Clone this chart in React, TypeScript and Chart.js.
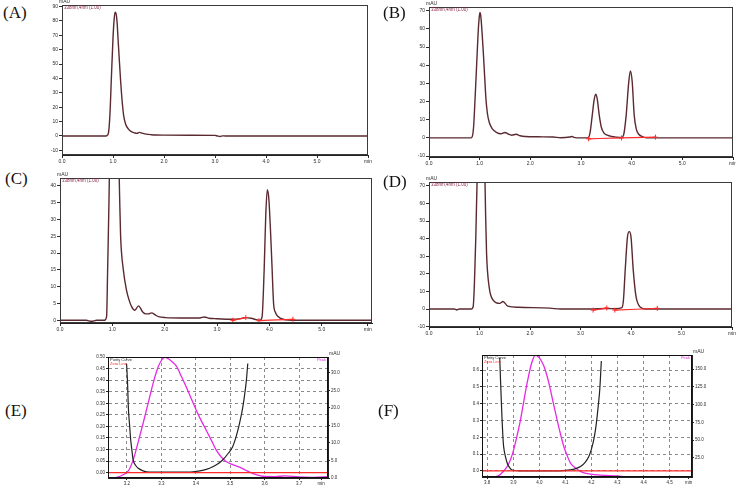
import React, { useEffect, useRef } from "react";
import { Chart, registerables } from "chart.js";

Chart.register(...registerables);

const FONT = '"Liberation Sans", Arial, Helvetica, sans-serif';
const SERIF = '"Liberation Serif", "Times New Roman", Times, serif';
const TRACE = "#5a2a30";
const RED = "#ff2b2b";
const MAGENTA = "#e52ae5";
const INK = "#2b2b2b";
const TITLE_COLOR = "#8a2345";

// ---------- Panel A (chromatogram) ----------
const A_TIME = [0, 0.5, 0.85, 0.88, 0.91, 0.94, 0.97, 1.0, 1.02, 1.04, 1.06, 1.08, 1.1, 1.12, 1.15, 1.18, 1.21, 1.25, 1.3, 1.36, 1.42, 1.47, 1.52, 1.57, 1.65, 1.75, 1.85, 2.0, 2.5, 3.0, 3.05, 3.1, 3.15, 3.2, 4.0, 5.0, 6.0];
const A_MAU = [0, 0, 0, 0.3, 2, 15, 42, 68, 80, 86, 85, 79, 67, 55, 38, 24, 14, 8, 5, 3, 2.2, 1.8, 2.5, 2, 1.3, 0.9, 0.7, 0.6, 0.5, 0.4, 0, -0.3, 0.1, 0, 0, 0, 0];

// ---------- Panel B ----------
const B_TIME = [0, 0.5, 0.82, 0.85, 0.88, 0.91, 0.94, 0.97, 0.99, 1.005, 1.02, 1.04, 1.07, 1.1, 1.125, 1.155, 1.19, 1.25, 1.33, 1.42, 1.5, 1.57, 1.63, 1.72, 1.8, 1.9, 2.15, 2.45, 2.6, 2.78, 2.82, 2.86, 3.0, 3.14, 3.18, 3.22, 3.26, 3.29, 3.32, 3.36, 3.4, 3.45, 3.52, 3.6, 3.7, 3.8, 3.84, 3.89, 3.94, 3.975, 4.01, 4.05, 4.09, 4.14, 4.22, 4.3, 5.0, 6.0];
const B_MAU = [0, 0, 0, 0.5, 6, 22, 40, 58, 66, 69, 67.5, 61, 48, 33, 21, 13, 8.5, 5, 3.1, 2.3, 3, 2, 1.5, 2, 1.2, 0.8, 0.6, 0.5, 0.1, 0.5, 0.8, 0.3, 0, 0, 3, 12, 21, 24, 21.5, 12.5, 6, 2.8, 1.5, 0.8, 0.4, 0.2, 1.5, 12, 30, 36.8, 31, 12.5, 5, 2, 0.6, 0, 0, 0];
const B_BASE_TIME = [3.15, 3.8, 4.47];
const B_BASE_MAU = [-0.5, 0, 0.4];

// ---------- Panel C ----------
const C_TIME = [0, 0.5, 0.6, 0.7, 0.85, 0.89, 0.91, 0.935, 0.96, 1.0, 1.05, 1.1, 1.125, 1.14, 1.158, 1.21, 1.27, 1.32, 1.37, 1.43, 1.5, 1.58, 1.64, 1.69, 1.75, 1.82, 1.88, 2.02, 2.3, 2.67, 2.76, 2.85, 2.95, 3.3, 3.45, 3.55, 3.65, 3.75, 3.82, 3.86, 3.9, 3.93, 3.96, 3.99, 4.02, 4.05, 4.08, 4.12, 4.16, 4.26, 4.5, 5.0, 5.96];
const C_MAU = [0, 0, -0.3, 0, 0, 1.1, 15, 34.8, 60, 82, 88, 70, 47, 36, 25, 15, 9, 6, 4, 3, 4.3, 2.5, 1.9, 1.9, 2.2, 1.6, 1.1, 0.8, 0.7, 0.7, 1, 0.6, 0.5, 0.3, 0.5, 0.8, 0.6, 0.2, 0, 1, 15, 31, 38.8, 36, 27, 16, 5, 2.2, 1.2, 0.3, 0, 0, 0];
const C_BASE_TIME = [3.3, 3.55, 3.67, 3.8, 4.45];
const C_BASE_MAU = [0, 0.8, null, -0.1, 0.3];

// ---------- Panel D ----------
const D_TIME = [0, 0.5, 0.55, 0.6, 0.84, 0.874, 0.9, 0.927, 0.95, 1.0, 1.05, 1.1, 1.12, 1.14, 1.19, 1.27, 1.4, 1.465, 1.56, 1.78, 2.4, 2.6, 3.2, 3.5, 3.7, 3.82, 3.85, 3.885, 3.93, 3.965, 4.0, 4.045, 4.1, 4.19, 4.29, 5.0, 6.0];
const D_MAU = [0, 0, -0.5, 0, 0, 1.3, 15, 41, 70, 95, 100, 85, 55, 31.6, 12.7, 5.1, 3.2, 4.3, 1.7, 1, 0.5, 0, 0, 0.3, 0.2, 0.8, 5, 22, 41, 44, 41, 22, 7, 1, 0, 0, 0];
const D_BASE_TIME = [3.25, 3.52, 3.6, 3.68, 4.52];
const D_BASE_MAU = [-0.6, 0.6, null, -0.6, 0.4];

// ---------- Panel E (peak purity) ----------
const E_PEAK_TIME = [3.145, 3.16, 3.175, 3.19, 3.204, 3.218, 3.232, 3.247, 3.262, 3.276, 3.29, 3.3, 3.31, 3.32, 3.333, 3.344, 3.358, 3.372, 3.386, 3.401, 3.415, 3.43, 3.445, 3.459, 3.474, 3.488, 3.507, 3.527, 3.545, 3.565, 3.594, 3.63, 3.66, 3.7, 3.74, 3.784];
const E_PEAK_MAU = [0, 0, 0.3, 1, 2, 5.1, 10, 15.6, 21.5, 27, 31.5, 33.5, 34.4, 34, 33, 31.8, 29, 26, 22.8, 19.4, 16.5, 13.7, 10.8, 8, 6, 4.7, 3.8, 3.1, 2.2, 1.3, 0.5, 0.4, 0.6, 0.3, 0.2, 0.4];
const E_PURITY_TIME = [3.199, 3.202, 3.204, 3.208, 3.211, 3.215, 3.218, 3.225, 3.233, 3.245, 3.257, 3.3, 3.35, 3.392, 3.42, 3.44, 3.46, 3.478, 3.495, 3.507, 3.518, 3.527, 3.535, 3.541, 3.547, 3.551];
const E_PURITY = [0.47, 0.38, 0.285, 0.2, 0.141, 0.09, 0.055, 0.032, 0.019, 0.009, 0.004, 0.002, 0.002, 0.004, 0.01, 0.019, 0.034, 0.055, 0.085, 0.112, 0.16, 0.213, 0.27, 0.328, 0.4, 0.472];
const E_ZERO_TIME = [3.145, 3.784];
const E_ZERO = [0, 0];

// ---------- Panel F (peak purity) ----------
const F_PEAK_TIME = [3.78, 3.795, 3.81, 3.825, 3.835, 3.844, 3.86, 3.877, 3.89, 3.902, 3.915, 3.928, 3.941, 3.954, 3.97, 3.985, 4.0, 4.017, 4.03, 4.042, 4.055, 4.068, 4.081, 4.094, 4.107, 4.119, 4.138, 4.158, 4.18, 4.209, 4.25, 4.3, 4.34, 4.37, 4.41, 4.44, 4.5, 4.586];
const F_PEAK_MAU = [-1.8, -1.8, -1.8, -2.5, -1, 0, 5, 13, 23, 37, 57, 79, 106, 132, 158, 170, 166, 155, 140, 122, 100, 79, 59, 41, 28, 18, 11, 6, 3, 1.4, 0.3, -0.5, -2.5, -1.8, -1.8, -2.5, -3, -3];
const F_PURITY_TIME = [3.848, 3.851, 3.854, 3.857, 3.86, 3.863, 3.87, 3.877, 3.886, 3.896, 3.92, 4.0, 4.08, 4.119, 4.14, 4.158, 4.175, 4.19, 4.2, 4.209, 4.216, 4.222, 4.227, 4.232, 4.238];
const F_PURITY = [0.675, 0.545, 0.42, 0.305, 0.21, 0.146, 0.085, 0.046, 0.02, 0.006, 0.001, 0, 0.001, 0.006, 0.014, 0.026, 0.05, 0.086, 0.13, 0.186, 0.25, 0.325, 0.4, 0.485, 0.654];
const F_ZERO_TIME = [3.78, 4.586];
const F_ZERO = [0, 0];

// ---------- Ticks ----------
const X_TICKS = [0, 1, 2, 3, 4, 5, 6];
const X_TICKS_C = [0, 1, 2, 3, 4, 5, 5.88];
const X_LABELS = ["0.0", "1.0", "2.0", "3.0", "4.0", "5.0", "min"];
const Y_TICKS_A = [-10, 0, 10, 20, 30, 40, 50, 60, 70, 80, 90];
const Y_TICKS_BD = [-10, 0, 10, 20, 30, 40, 50, 60, 70];
const Y_TICKS_C = [0, 5, 10, 15, 20, 25, 30, 35, 40];
const E_X_TICKS = [3.2, 3.3, 3.4, 3.5, 3.6, 3.7, 3.764];
const E_X_LABELS = ["3.2", "3.3", "3.4", "3.5", "3.6", "3.7", "min"];
const E_PURITY_TICKS = [0, 0.05, 0.1, 0.15, 0.2, 0.25, 0.3, 0.35, 0.4, 0.45, 0.5];
const E_PURITY_LABELS = ["0.00", "0.05", "0.10", "0.15", "0.20", "0.25", "0.30", "0.35", "0.40", "0.45", "0.50"];
const E_MAU_TICKS = [0, 5, 10, 15, 20, 25, 30];
const E_MAU_LABELS = ["0.0", "5.0", "10.0", "15.0", "20.0", "25.0", "30.0"];
const F_X_TICKS = [3.8, 3.9, 4.0, 4.1, 4.2, 4.3, 4.4, 4.5, 4.573];
const F_X_LABELS = ["3.8", "3.9", "4.0", "4.1", "4.2", "4.3", "4.4", "4.5", "min"];
const F_PURITY_TICKS = [0, 0.1, 0.2, 0.3, 0.4, 0.5, 0.6];
const F_PURITY_LABELS = ["0.0", "0.1", "0.2", "0.3", "0.4", "0.5", "0.6"];
const F_MAU_TICKS = [25, 50, 75, 100, 125, 150];
const F_MAU_LABELS = ["25.0", "50.0", "75.0", "100.0", "125.0", "150.0"];

const CHROM_TITLE = "338nm,4nm (1.00)";

const str = (a: number[]) => a.map((v) => String(v));

const chromTexts = [
  { text: "mAU", anchor: "tl", dx: -3, dy: -0.5, color: INK, size: 5, baseline: "bottom", align: "left" },
  { text: CHROM_TITLE, anchor: "tl", dx: 2, dy: 1, color: TITLE_COLOR, size: 4.5, baseline: "top", align: "left" },
];
const purityTexts = [
  { text: "Purity Curve", anchor: "tl", dx: 2, dy: 0.5, color: INK, size: 4, baseline: "top", align: "left" },
  { text: "Zero Line", anchor: "tl", dx: 2, dy: 4.5, color: RED, size: 4, baseline: "top", align: "left" },
  { text: "Peak", anchor: "tr", dx: -2, dy: 0.5, color: MAGENTA, size: 4, baseline: "top", align: "right" },
  { text: "mAU", anchor: "tr", dx: 1, dy: -1, color: INK, size: 5, baseline: "bottom", align: "left" },
];

const trace = (t: number[], v: any[]) => ({ t, v, color: TRACE, width: 1.4, axis: "y" });
const base = (t: number[], v: any[]) => ({ t, v, color: RED, width: 1.2, axis: "y", marks: true });

const PANELS: any[] = [
  {
    id: "A", letter: "(A)", lx: 3, ly: 4,
    L: 62, T: 5, R: 368, B: 155, ml: 24, mt: 5, mr: 10, mb: 12,
    xMin: 0, xMax: 6, xTicks: X_TICKS, xLabels: X_LABELS,
    yMin: -13.2, yMax: 91, yTicks: Y_TICKS_A, yLabels: str(Y_TICKS_A),
    lines: [trace(A_TIME, A_MAU)], texts: chromTexts, grid: false, font: 5,
  },
  {
    id: "B", letter: "(B)", lx: 383, ly: 4,
    L: 429, T: 7, R: 733, B: 157, ml: 24, mt: 7, mr: 10, mb: 12,
    xMin: 0, xMax: 6, xTicks: X_TICKS, xLabels: X_LABELS,
    yMin: -10.5, yMax: 72, yTicks: Y_TICKS_BD, yLabels: str(Y_TICKS_BD),
    lines: [base(B_BASE_TIME, B_BASE_MAU), trace(B_TIME, B_MAU)], texts: chromTexts, grid: false, font: 5,
  },
  {
    id: "C", letter: "(C)", lx: 5, ly: 170,
    L: 60, T: 178, R: 372, B: 323, ml: 24, mt: 8, mr: 10, mb: 12,
    xMin: 0, xMax: 5.96, xTicks: X_TICKS_C, xLabels: X_LABELS,
    yMin: -0.8, yMax: 42.3, yTicks: Y_TICKS_C, yLabels: str(Y_TICKS_C),
    lines: [base(C_BASE_TIME, C_BASE_MAU), trace(C_TIME, C_MAU)], texts: chromTexts, grid: false, font: 5,
  },
  {
    id: "D", letter: "(D)", lx: 383, ly: 173,
    L: 429, T: 182, R: 732, B: 327, ml: 24, mt: 8, mr: 10, mb: 12,
    xMin: 0, xMax: 6, xTicks: X_TICKS, xLabels: X_LABELS,
    yMin: -10.2, yMax: 72.2, yTicks: Y_TICKS_BD, yLabels: str(Y_TICKS_BD),
    lines: [base(D_BASE_TIME, D_BASE_MAU), trace(D_TIME, D_MAU)], texts: chromTexts, grid: false, font: 5,
  },
  {
    id: "E", letter: "(E)", lx: 5, ly: 402,
    L: 108, T: 357, R: 328, B: 478, ml: 20, mt: 12, mr: 22, mb: 10,
    xMin: 3.145, xMax: 3.784, xTicks: E_X_TICKS, xLabels: E_X_LABELS,
    yMin: -0.023, yMax: 0.5, yTicks: E_PURITY_TICKS, yLabels: E_PURITY_LABELS,
    y2: { min: 0, max: 34.5, ticks: E_MAU_TICKS, labels: E_MAU_LABELS },
    lines: [
      { t: E_ZERO_TIME, v: E_ZERO, color: RED, width: 1.2, axis: "y" },
      { t: E_PURITY_TIME, v: E_PURITY, color: "#222222", width: 1.2, axis: "y" },
      { t: E_PEAK_TIME, v: E_PEAK_MAU, color: MAGENTA, width: 1.3, axis: "y2" },
    ],
    texts: purityTexts, grid: true, font: 4.5,
  },
  {
    id: "F", letter: "(F)", lx: 378, ly: 402,
    L: 482, T: 355, R: 692, B: 477, ml: 20, mt: 12, mr: 30, mb: 11,
    xMin: 3.78, xMax: 4.586, xTicks: F_X_TICKS, xLabels: F_X_LABELS,
    yMin: -0.036, yMax: 0.69, yTicks: F_PURITY_TICKS, yLabels: F_PURITY_LABELS,
    y2: { min: -2, max: 170, ticks: F_MAU_TICKS, labels: F_MAU_LABELS },
    lines: [
      { t: F_ZERO_TIME, v: F_ZERO, color: RED, width: 1.2, axis: "y" },
      { t: F_PURITY_TIME, v: F_PURITY, color: "#222222", width: 1.2, axis: "y" },
      { t: F_PEAK_TIME, v: F_PEAK_MAU, color: MAGENTA, width: 1.3, axis: "y2" },
    ],
    texts: purityTexts, grid: true, font: 4.5,
  },
];

function framePlugin(s: any) {
  return {
    id: "frame" + s.id,
    afterDraw(chart: any) {
      const { ctx, chartArea: a } = chart;
      ctx.save();
      ctx.strokeStyle = s.grid ? "#111111" : "#3a3a3a";
      ctx.lineWidth = 1;
      const l = Math.round(a.left) + 0.5;
      const t = Math.round(a.top) + 0.5;
      const r = Math.round(a.right) - 0.5;
      const b = Math.round(a.bottom) - 0.5;
      ctx.strokeRect(l, t, r - l, b - t);
      for (const it of s.texts) {
        ctx.font = `${it.size}px ${FONT}`;
        ctx.fillStyle = it.color;
        ctx.textAlign = it.align;
        ctx.textBaseline = it.baseline;
        const x = (it.anchor === "tr" ? a.right : a.left) + it.dx;
        ctx.fillText(it.text, x, a.top + it.dy);
      }
      ctx.restore();
    },
  };
}

function buildConfig(s: any): any {
  const datasets = s.lines.map((l: any) => ({
    data: l.t.map((x: number, i: number) => ({ x, y: l.v[i] })),
    borderColor: l.color,
    backgroundColor: l.color,
    borderWidth: l.width,
    pointRadius: l.marks ? 2.5 : 0,
    pointStyle: "cross",
    pointBorderWidth: 1,
    pointBorderColor: l.color,
    cubicInterpolationMode: "monotone",
    tension: 0,
    spanGaps: false,
    yAxisID: l.axis,
  }));
  const tickFont = { family: FONT, size: s.font };
  const gridColor = (labels: string[]) => (c: any) =>
    s.grid ? (labels[c.index] === "min" ? "rgba(0,0,0,0)" : "#8a8a8a") : INK;
  const tickColor = s.grid ? "#222222" : INK;

  const scales: any = {
    x: {
      type: "linear",
      min: s.xMin,
      max: s.xMax,
      afterBuildTicks: (sc: any) => {
        sc.ticks = s.xTicks.map((v: number) => ({ value: v }));
      },
      afterFit: (sc: any) => {
        sc.height = s.mb;
      },
      ticks: {
        autoSkip: false, maxRotation: 0, minRotation: 0, padding: 1,
        color: INK, font: tickFont,
        callback: (_v: any, i: number) => s.xLabels[i],
      },
      grid: { drawOnChartArea: s.grid, drawTicks: true, tickLength: s.grid ? 2 : 3, color: gridColor(s.xLabels), tickColor, lineWidth: 1 },
      border: { display: true, color: "#222222", dash: s.grid ? [3, 3] : [] },
    },
    y: {
      type: "linear",
      position: "left",
      min: s.yMin,
      max: s.yMax,
      afterBuildTicks: (sc: any) => {
        sc.ticks = s.yTicks.map((v: number) => ({ value: v }));
      },
      afterFit: (sc: any) => {
        sc.width = s.ml;
      },
      ticks: {
        autoSkip: false, padding: 1, color: INK, font: tickFont,
        callback: (_v: any, i: number) => s.yLabels[i],
      },
      grid: { drawOnChartArea: s.grid, drawTicks: true, tickLength: s.grid ? 2 : 3, color: gridColor(s.yLabels), tickColor, lineWidth: 1 },
      border: { display: true, color: "#222222", dash: s.grid ? [3, 3] : [] },
    },
  };
  if (s.y2) {
    scales.y2 = {
      type: "linear",
      position: "right",
      min: s.y2.min,
      max: s.y2.max,
      afterBuildTicks: (sc: any) => {
        sc.ticks = s.y2.ticks.map((v: number) => ({ value: v }));
      },
      afterFit: (sc: any) => {
        sc.width = s.mr;
      },
      ticks: {
        autoSkip: false, padding: 1, color: INK, font: tickFont,
        callback: (_v: any, i: number) => s.y2.labels[i],
      },
      grid: { drawOnChartArea: false, drawTicks: true, tickLength: 2, color: tickColor },
      border: { display: true, color: "#222222" },
    };
  }
  return {
    type: "line",
    data: { datasets },
    options: {
      responsive: false,
      maintainAspectRatio: false,
      animation: false,
      devicePixelRatio: 1,
      events: [],
      layout: { padding: { top: s.mt, right: s.y2 ? 0 : s.mr, bottom: 0, left: 0 } },
      plugins: { legend: { display: false }, tooltip: { enabled: false }, title: { display: false } },
      scales,
    },
    plugins: [framePlugin(s)],
  };
}

function ChartPanel({ spec }: { spec: any }) {
  const ref = useRef<HTMLCanvasElement>(null);
  const w = spec.ml + (spec.R - spec.L) + spec.mr;
  const h = spec.mt + (spec.B - spec.T) + spec.mb;
  useEffect(() => {
    const chart = new Chart(ref.current as HTMLCanvasElement, buildConfig(spec));
    return () => chart.destroy();
  }, [spec]);
  return (
    <canvas
      ref={ref}
      width={w}
      height={h}
      style={{ position: "absolute", left: spec.L - spec.ml, top: spec.T - spec.mt, width: w, height: h, display: "block" }}
    />
  );
}

export default function App() {
  return (
    <div style={{ position: "absolute", left: 0, top: 0, width: 736, height: 488, overflow: "hidden", background: "#ffffff" }}>
      {PANELS.map((p) => (
        <ChartPanel key={p.id} spec={p} />
      ))}
      {PANELS.map((p) => (
        <div
          key={"l" + p.id}
          style={{ position: "absolute", left: p.lx, top: p.ly, fontFamily: SERIF, fontSize: 17, lineHeight: "17px", color: "#111" }}
        >
          {p.letter}
        </div>
      ))}
    </div>
  );
}
